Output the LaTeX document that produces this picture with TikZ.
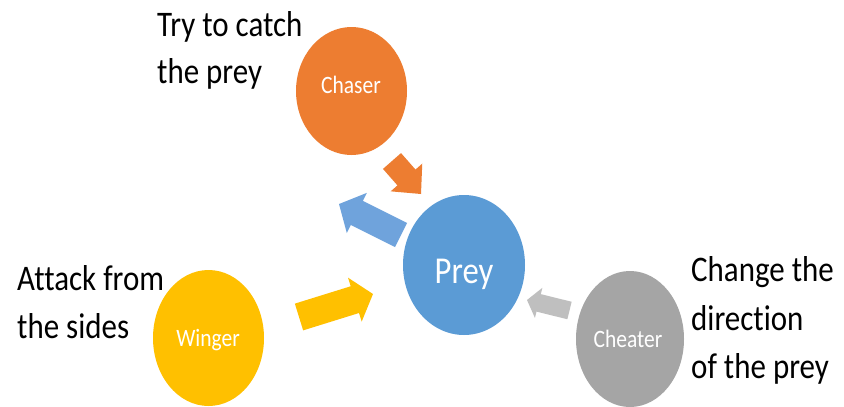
\documentclass[tikz,border=0pt]{standalone}
\usepackage{fontspec}
\setmainfont{Carlito}[Ligatures={NoCommon}]
\usepackage{graphicx}
\usetikzlibrary{shapes.geometric,calc}

\definecolor{chaserC}{HTML}{ED7D31}
\definecolor{preyC}{HTML}{5B9BD5}
\definecolor{preyArrow}{HTML}{6FA3DC}
\definecolor{wingerC}{HTML}{FFC000}
\definecolor{cheaterC}{HTML}{A5A5A5}
\definecolor{cheaterArrow}{HTML}{BFBFBF}

% narrow the lettering a little
\newcommand\sq[1]{\scalebox{0.86}[1]{#1}}

% block arrow: #1 tail, #2 tip, #3 half shaft width, #4 half head width,
% #5 head length, #6 colour
\newcommand\blockarrow[6]{%
  \coordinate (#2-neck) at ($(#2)!#5!(#1)$);
  \fill[#6] ($(#1)!#3!90:(#2)$) -- ($(#2-neck)!#3!90:(#2)$)
    -- ($(#2-neck)!#4!90:(#2)$) -- (#2)
    -- ($(#2-neck)!#4!-90:(#2)$) -- ($(#2-neck)!#3!-90:(#2)$)
    -- ($(#1)!#3!-90:(#2)$) -- cycle;}

\begin{document}
\begin{tikzpicture}[x=1pt,y=-1pt,
  blob/.style={ellipse, inner sep=0pt, draw=none},
  inlabel/.style={text=white, anchor=base, inner sep=0pt,
    font=\fontsize{25}{30}\selectfont},
  outlabel/.style={text=black, anchor=base west, inner sep=0pt,
    font=\fontsize{36}{48}\selectfont}]

\fill[white] (0,0) rectangle (844,407);
\useasboundingbox (0,0) rectangle (844,407);

% players
\node[blob, fill=chaserC, minimum width=111pt, minimum height=128pt] (chaser) at (351.5,91) {};
\node[blob, fill=preyC, minimum width=122pt, minimum height=140pt] (prey) at (464,265) {};
\node[blob, fill=wingerC, minimum width=111pt, minimum height=136pt] (winger) at (208.5,338) {};
\node[blob, fill=cheaterC, minimum width=108pt, minimum height=136pt] (cheater) at (630,339) {};

\node[inlabel] (chaserT) at (351,93) {\sq{Chaser}};
\node[inlabel, font=\fontsize{38}{44}\selectfont] (preyT) at (464,283) {\sq{Prey}};
\node[inlabel] (wingerT) at (208,346) {\sq{Winger}};
\node[inlabel] (cheaterT) at (628,347) {\sq{Cheater}};

% movement arrows
\coordinate (oTail) at (392,161);   \coordinate (oTip) at (421,194);
\coordinate (bTail) at (401,235);   \coordinate (bTip) at (339,204);
\coordinate (yTail) at (299,317);   \coordinate (yTip) at (373,294);
\coordinate (gTail) at (569.5,310.5); \coordinate (gTip) at (527,300);

\blockarrow{oTail}{oTip}{12pt}{21pt}{22pt}{chaserC}
\blockarrow{bTail}{bTip}{13.5pt}{22.5pt}{20pt}{preyArrow}
\blockarrow{yTail}{yTip}{14pt}{23pt}{19pt}{wingerC}
\blockarrow{gTail}{gTip}{9pt}{15.5pt}{12pt}{cheaterArrow}

% role descriptions
\node[outlabel] (chaserD1) at (157,36) {\sq{Try to catch}};
\node[outlabel] (chaserD2) at (157,83) {\sq{the prey}};
\node[outlabel] (wingerD1) at (17,290) {\sq{Attack from}};
\node[outlabel] (wingerD2) at (17,338) {\sq{the sides}};
\node[outlabel] (cheaterD1) at (691,281) {\sq{Change the}};
\node[outlabel] (cheaterD2) at (691,330) {\sq{direction}};
\node[outlabel] (cheaterD3) at (691,378) {\sq{of the prey}};
\end{tikzpicture}
\end{document}
